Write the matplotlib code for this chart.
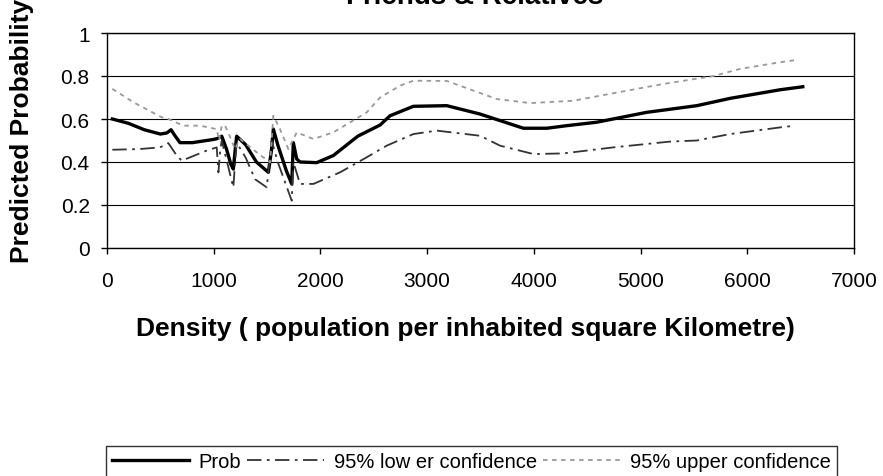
import matplotlib
matplotlib.use("Agg")
import matplotlib.pyplot as plt
from matplotlib.ticker import FuncFormatter

plt.rcParams['font.family'] = ['Liberation Sans', 'DejaVu Sans']

# values
prob_x = [50, 200, 350, 500, 560, 600, 640, 684, 800, 1000, 1040, 1075, 1120, 1160, 1184,
          1200, 1215, 1300, 1400, 1512, 1540, 1559, 1600, 1680, 1731, 1746, 1778, 1809,
          1965, 2121, 2350, 2559, 2652, 2871, 3184, 3496, 3902, 4121, 4308, 4589, 5058,
          5527, 5839, 6308, 6520]
prob_y = [0.60, 0.58, 0.55, 0.53, 0.535, 0.55, 0.52, 0.49, 0.49, 0.505, 0.51, 0.52, 0.46,
          0.39, 0.367, 0.45, 0.52, 0.48, 0.40, 0.352, 0.45, 0.553, 0.48, 0.36, 0.298,
          0.49, 0.414, 0.40, 0.397, 0.43, 0.52, 0.572, 0.615, 0.659, 0.662, 0.623, 0.557,
          0.557, 0.569, 0.585, 0.631, 0.662, 0.696, 0.736, 0.75]

low_x = [50, 300, 497, 575, 653, 700, 934, 1028, 1044, 1060, 1075, 1184, 1200, 1215, 1300,
         1387, 1497, 1543, 1600, 1731, 1746, 1809, 1934, 2184, 2434, 2621, 2871, 3090,
         3496, 3683, 3996, 4277, 4745, 5277, 5527, 5839, 6308, 6448]
low_y = [0.457, 0.46, 0.468, 0.488, 0.43, 0.406, 0.453, 0.468, 0.352, 0.45, 0.50, 0.282,
         0.40, 0.49, 0.42, 0.32, 0.282, 0.50, 0.40, 0.22, 0.40, 0.298, 0.298, 0.352,
         0.422, 0.476, 0.53, 0.546, 0.522, 0.476, 0.437, 0.44, 0.468, 0.495, 0.50, 0.53,
         0.561, 0.569]

up_x = [50, 247, 512, 575, 715, 872, 1028, 1050, 1075, 1106, 1150, 1200, 1246, 1403, 1528,
        1559, 1621, 1700, 1778, 1934, 2121, 2434, 2559, 2746, 2871, 3184, 3652, 3965,
        4371, 4745, 5214, 5683, 5933, 6308, 6479]
up_y = [0.74, 0.678, 0.608, 0.60, 0.569, 0.569, 0.553, 0.50, 0.569, 0.569, 0.52, 0.46,
        0.507, 0.445, 0.398, 0.615, 0.553, 0.46, 0.538, 0.507, 0.538, 0.631, 0.70, 0.755,
        0.778, 0.777, 0.693, 0.674, 0.685, 0.72, 0.763, 0.80, 0.833, 0.864, 0.876]

x_ticks = [0, 1000, 2000, 3000, 4000, 5000, 6000, 7000]
y_ticks = [0, 0.2, 0.4, 0.6, 0.8, 1]

fig = plt.figure(figsize=(8.83, 4.77), dpi=100)
ax = fig.add_axes([107/883, 1 - 249/477, (854 - 107)/883, (249 - 34)/477])

ax.plot(prob_x, prob_y, color='black', lw=2.4, label='Prob', solid_joinstyle='round')
ax.plot(low_x, low_y, color='#333333', lw=1.3, dashes=(8, 3, 1.5, 3),
        label='95% low er confidence')
ax.plot(up_x, up_y, color='#999999', lw=1.3, dashes=(2.5, 2.5),
        label='95% upper confidence')

ax.set_xlim(0, 7000)
ax.set_ylim(0, 1)
ax.set_xticks(x_ticks)
ax.set_yticks(y_ticks)
ax.yaxis.set_major_formatter(FuncFormatter(lambda v, p: '%g' % v))
ax.grid(axis='y', color='black', lw=0.8)
ax.set_axisbelow(True)
for s in ax.spines.values():
    s.set_color('black')
    s.set_linewidth(1)
ax.tick_params(direction='out', length=4.5, width=1, labelsize=15, colors='black')
ax.tick_params(axis='x', pad=12)
ax.tick_params(axis='y', pad=8)

# title sits partly above the top edge, as in the original
fig.text(475/883, 1 - 4.5/477, 'Friends & Relatives', fontsize=20, fontweight='bold',
         ha='center', va='baseline')
fig.text(465/883, 1 - 329/477, 'Density ( population per inhabited square Kilometre)',
         fontsize=19, fontweight='bold', ha='center', va='center')
fig.text(22/883, 1 - 131/477, 'Predicted Probability', fontsize=19, fontweight='bold',
         rotation=90, ha='center', va='center')

leg = fig.legend(loc='upper left', bbox_to_anchor=(106/883, 1 - 447/477), ncol=3,
                 fontsize=14.5, handlelength=3.8, handletextpad=0.5, columnspacing=0.3,
                 borderpad=0.3, borderaxespad=0, fancybox=False, frameon=True)
leg.get_frame().set_edgecolor('black')
leg.get_frame().set_linewidth(1)

fig.savefig('out.png', dpi=100)
